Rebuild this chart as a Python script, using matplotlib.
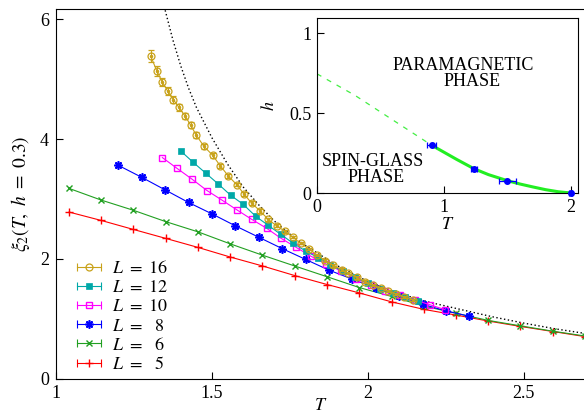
import numpy as np
import matplotlib
matplotlib.use('Agg')
import matplotlib.pyplot as plt
from matplotlib.lines import Line2D
from matplotlib.legend_handler import HandlerLine2D

plt.rcParams['font.family'] = ['Liberation Serif', 'DejaVu Serif']
plt.rcParams['mathtext.fontset'] = 'stix'
plt.rcParams['font.size'] = 13

# ---- main panel data: xi_2(T, h=0.3) for each L ----
T_5 = [1.042, 1.145, 1.248, 1.352, 1.455, 1.558, 1.662, 1.765, 1.869, 1.972, 2.076,
       2.179, 2.282, 2.386, 2.489, 2.593, 2.696]
xi_5 = [2.78, 2.64, 2.49, 2.34, 2.19, 2.03, 1.88, 1.72, 1.57, 1.43, 1.28,
        1.155, 1.06, 0.96, 0.87, 0.785, 0.70]

T_6 = T_5
xi_6 = [3.175, 2.98, 2.81, 2.62, 2.45, 2.25, 2.06, 1.88, 1.70, 1.52, 1.37,
        1.21, 1.09, 0.97, 0.88, 0.79, 0.71]

T_8 = [1.2, 1.275, 1.35, 1.425, 1.5, 1.575, 1.65, 1.725, 1.8, 1.875, 1.95,
       2.025, 2.1, 2.175, 2.25, 2.325]
xi_8 = [3.56, 3.36, 3.15, 2.94, 2.75, 2.55, 2.36, 2.17, 1.99, 1.81, 1.66,
        1.51, 1.37, 1.24, 1.13, 1.04]

T_10 = [1.341, 1.388, 1.436, 1.484, 1.532, 1.579, 1.627, 1.675, 1.722, 1.770,
        1.818, 1.866, 1.913, 1.961, 2.009, 2.056, 2.104, 2.152, 2.200, 2.247]
xi_10 = [3.69, 3.51, 3.33, 3.14, 2.98, 2.82, 2.66, 2.51, 2.34, 2.19,
         2.04, 1.91, 1.80, 1.67, 1.56, 1.47, 1.39, 1.31, 1.23, 1.15]

T_12 = [1.40, 1.44, 1.48, 1.52, 1.56, 1.60, 1.64, 1.68, 1.72, 1.76,
        1.80, 1.84, 1.88, 1.92, 1.96, 2.00, 2.04, 2.08, 2.12, 2.16]
xi_12 = [3.80, 3.61, 3.43, 3.25, 3.06, 2.91, 2.71, 2.56, 2.41, 2.26,
         2.13, 2.02, 1.90, 1.79, 1.69, 1.59, 1.50, 1.43, 1.36, 1.30]

T_16 = [1.304, 1.323, 1.341, 1.358, 1.376, 1.394, 1.413, 1.432, 1.449, 1.474,
        1.502, 1.527, 1.553, 1.579, 1.603, 1.627, 1.654, 1.680, 1.707, 1.734,
        1.759, 1.784, 1.812, 1.838, 1.863, 1.889, 1.916, 1.937, 1.964, 1.990,
        2.015, 2.041, 2.065, 2.090, 2.115, 2.145]
xi_16 = [5.38, 5.14, 4.95, 4.80, 4.66, 4.53, 4.39, 4.23, 4.07, 3.88,
         3.73, 3.55, 3.38, 3.24, 3.08, 2.93, 2.80, 2.66, 2.55, 2.46,
         2.36, 2.26, 2.16, 2.06, 1.97, 1.89, 1.82, 1.76, 1.69, 1.62,
         1.56, 1.51, 1.46, 1.41, 1.36, 1.31]
err_16 = [0.10, 0.08, 0.07, 0.07, 0.06, 0.06, 0.05, 0.05, 0.05, 0.04,
          0.04, 0.04, 0.035, 0.03, 0.03, 0.03, 0.03, 0.025, 0.025, 0.025,
          0.02, 0.02, 0.02, 0.02, 0.02, 0.02, 0.02, 0.02, 0.02, 0.02,
          0.02, 0.02, 0.02, 0.02, 0.02, 0.02]

# dotted reference curve
T_fit = [1.34, 1.35, 1.375, 1.40, 1.425, 1.45, 1.50, 1.55, 1.60, 1.65, 1.70,
         1.75, 1.80, 1.90, 2.0, 2.1, 2.2, 2.3, 2.4, 2.5, 2.6, 2.7]
xi_fit = [6.35, 6.15, 5.65, 5.22, 4.85, 4.53, 4.02, 3.58, 3.20, 2.90, 2.63,
          2.41, 2.22, 1.89, 1.62, 1.42, 1.27, 1.15, 1.03, 0.925, 0.83, 0.75]

# ---- inset data: phase diagram ----
T_pts = [0.903, 1.236, 1.50, 1.998]
h_pts = [0.30, 0.15, 0.077, 0.0]
T_err = [0.035, 0.026, 0.068, 0.01]
T_line = [0.9, 1.0, 1.1, 1.236, 1.35, 1.5, 1.6, 1.7, 1.8, 1.9, 2.0]
h_line = [0.30, 0.255, 0.21, 0.152, 0.115, 0.077, 0.056, 0.038, 0.021, 0.008, 0.0]
T_dash = [0.0, 0.3, 0.6, 0.9]
h_dash = [0.745, 0.61, 0.455, 0.30]

series = [
    (r'$L\ =\ 16$', T_16, xi_16, '#c8a21a', dict(marker='o', ms=5, mfc='none', mew=0.9)),
    (r'$L\ =\ 12$', T_12, xi_12, '#00a8a8', dict(marker='s', ms=5, mew=0.5)),
    (r'$L\ =\ 10$', T_10, xi_10, '#ff00ff', dict(marker='s', ms=5, mfc='none', mew=1.0)),
    (r'$L\ =\ \enspace 8$', T_8, xi_8, '#0000ff', dict(marker=(8, 2, 0), ms=6, mew=1.2)),
    (r'$L\ =\ \enspace 6$', T_6, xi_6, '#22a022', dict(marker='x', ms=5, mew=1.0)),
    (r'$L\ =\ \enspace 5$', T_5, xi_5, '#ff0000', dict(marker='+', ms=6, mew=1.0)),
]

fig = plt.figure(figsize=(5.84, 4.16), dpi=100)
ax = fig.add_axes([0.0959, 0.0901, 0.908, 0.888])

ax.plot(T_fit, xi_fit, color='black', ls=(0, (1, 1.8)), lw=1.0, zorder=1)

handles, labels, hmap = [], [], {}
for lab, T, xi, c, mk in series[::-1]:
    if lab == series[0][0]:
        ax.errorbar(T, xi, yerr=err_16, color=c, lw=0.8, capsize=2.5, elinewidth=0.8,
                    capthick=0.8, **mk)
        ax.plot(T, xi, ls='none', marker='o', ms=1.5, color=c)
    else:
        ax.plot(T, xi, color=c, lw=0.8, **mk)
for lab, T, xi, c, mk in series:
    cap = Line2D([], [], color=c, lw=0.8, marker='|', ms=6, mew=0.8)
    sym = Line2D([], [], color=c, ls='none', **mk)
    handles.append((cap, sym))
    labels.append(lab)
    hmap[cap] = HandlerLine2D(numpoints=2, marker_pad=0)
    hmap[sym] = HandlerLine2D(numpoints=1)

ax.legend(handles, labels, handler_map=hmap, loc='lower left',
          bbox_to_anchor=(0.04, 0.015), frameon=False, handlelength=1.3,
          handletextpad=0.6, labelspacing=0.12, borderpad=0, borderaxespad=0)

ax.set_xlim(1, 2.7)
ax.set_ylim(0, 6.17)
ax.set_xticks([1, 1.5, 2, 2.5])
ax.set_xticklabels(['1', '1.5', '2', '2.5'])
ax.set_yticks([0, 2, 4, 6])
ax.tick_params(direction='in', length=5, width=0.8, pad=5)
ax.set_xlabel(r'$T$', labelpad=-4)
ax.set_ylabel(r'$\xi_2(T,\ h\ =\ 0.3)$', labelpad=6, fontsize=14)

# inset
ax2 = fig.add_axes([0.5428, 0.536, 0.4469, 0.4207])
ax2.plot(T_dash, h_dash, color='#44ee44', lw=0.9, ls=(0, (4, 5)))
ax2.plot(T_line, h_line, color='#22ee22', lw=2.2)
ax2.errorbar(T_pts, h_pts, xerr=T_err, color='#0000ff', marker='o', ms=4, ls='none',
             capsize=2.5, elinewidth=0.9, capthick=0.9, zorder=3, clip_on=False)
ax2.set_xlim(0, 2.055)
ax2.set_ylim(0, 1.094)
ax2.set_xticks([0, 1, 2])
ax2.set_yticks([0, 0.5, 1])
ax2.set_yticklabels(['0', '0.5', '1'])
ax2.tick_params(direction='in', length=5, width=0.8, pad=4)
ax2.set_xlabel(r'$T$', labelpad=0)
ax2.set_ylabel(r'$h$', labelpad=8)
ax2.text(1.15, 0.80, 'PARAMAGNETIC', ha='center', va='center', fontsize=13)
ax2.text(1.218, 0.70, 'PHASE', ha='center', va='center', fontsize=13)
ax2.text(0.437, 0.195, 'SPIN-GLASS', ha='center', va='center', fontsize=13)
ax2.text(0.465, 0.098, 'PHASE', ha='center', va='center', fontsize=13)

fig.savefig('out.png', dpi=100)
